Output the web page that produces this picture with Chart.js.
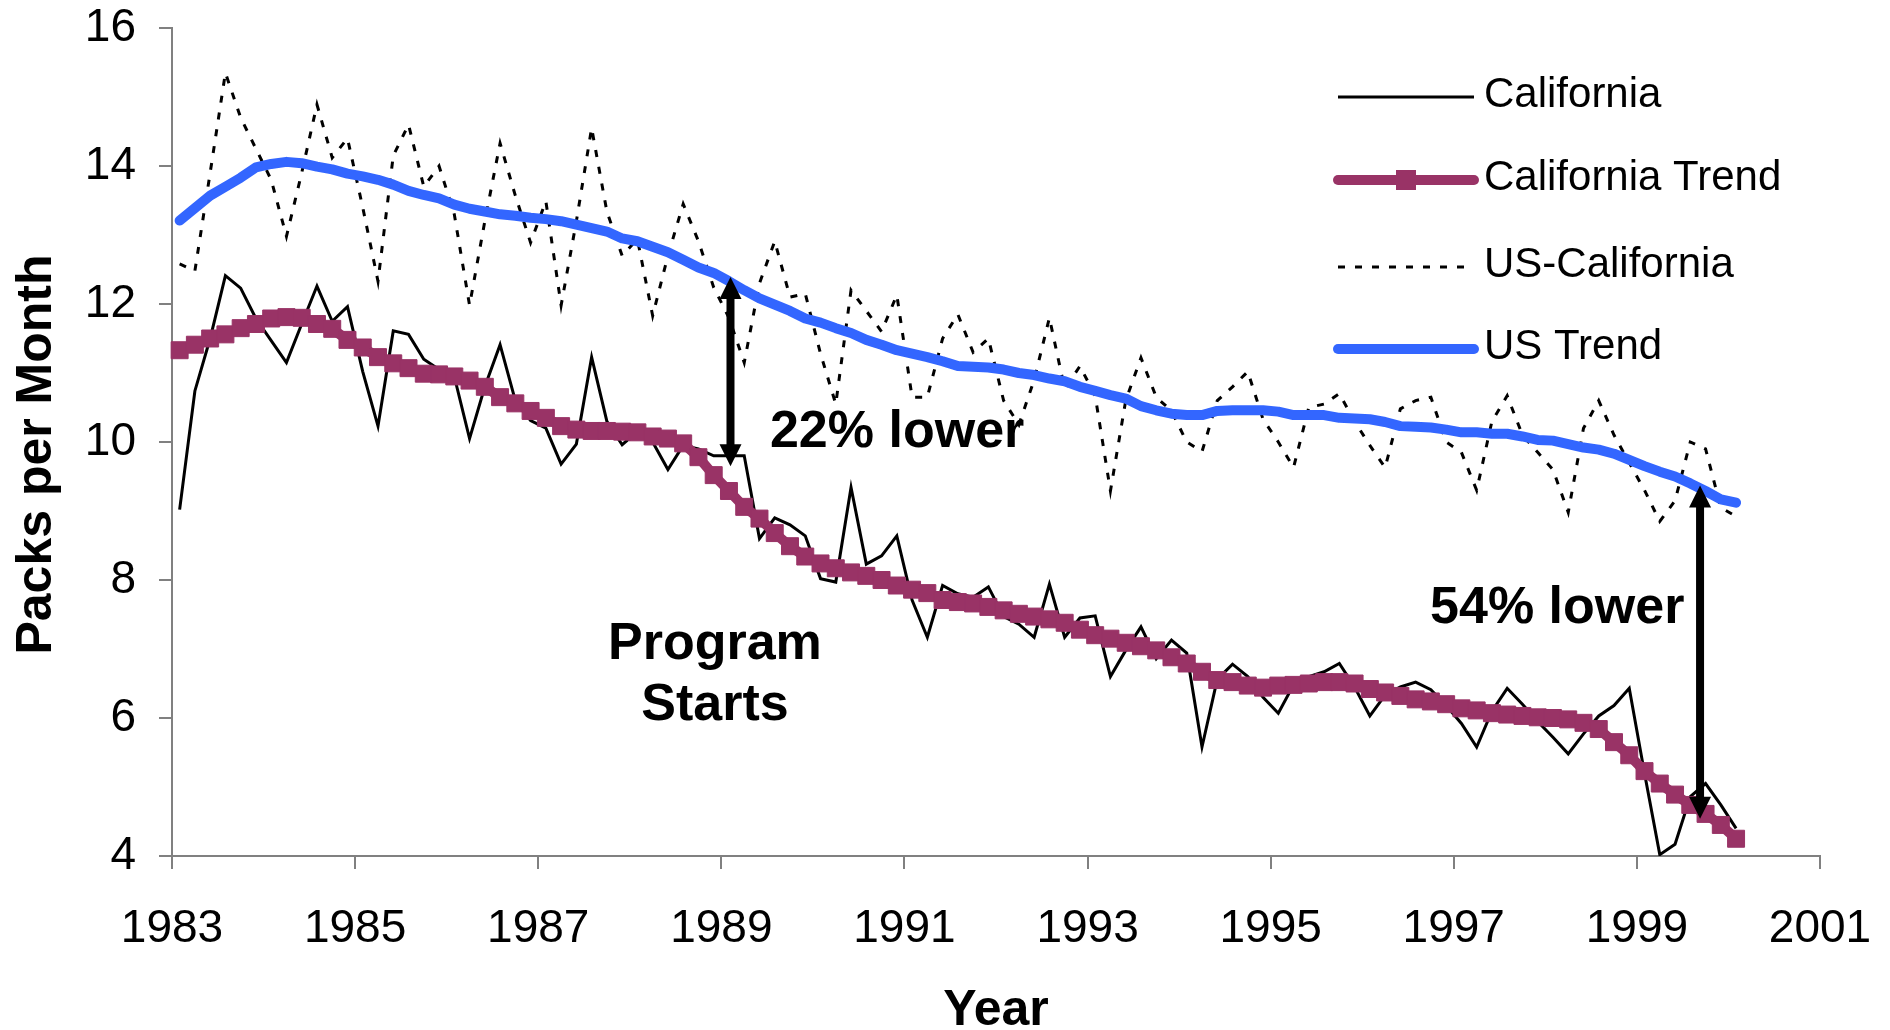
<!DOCTYPE html>
<html>
<head>
<meta charset="utf-8">
<title>Packs per Month</title>
<script src="https://cdn.jsdelivr.net/npm/chart.js@4"></script>
<style>
  body { margin: 0; background: #fff; }
  canvas { display: block; }
</style>
</head>
<body>
<canvas id="myChart" width="1890" height="1030"></canvas>
<script>
// data is bimonthly, first period is Jan-Feb 1983
const firstPeriod = 1983 + 1 / 12;
const periodStep = 2 / 12;

const yearTicks = [1983, 1985, 1987, 1989, 1991, 1993, 1995, 1997, 1999, 2001];
const packTicks = [4, 6, 8, 10, 12, 14, 16];

const california = [
  9.02, 10.74, 11.5, 12.41, 12.23, 11.79, 11.47, 11.15, 11.71, 12.26, 11.75, 11.96, 11.02, 10.23, 11.61, 11.56, 11.2,
  11.05, 10.95, 10.05, 10.8, 11.41, 10.6, 10.31, 10.2, 9.68, 9.97, 11.23, 10.3, 9.96, 10.15, 10.0, 9.6, 9.95,
  9.9, 9.8, 9.8, 9.8, 8.6, 8.9, 8.8, 8.64, 8.02, 7.97, 9.34, 8.23, 8.35, 8.64, 7.71, 7.17, 7.92, 7.8,
  7.75, 7.9, 7.47, 7.36, 7.17, 7.94, 7.17, 7.45, 7.48, 6.6, 6.98, 7.32, 6.86, 7.13, 6.94, 5.58, 6.56,
  6.78, 6.6, 6.3, 6.07, 6.48, 6.6, 6.67, 6.79, 6.45, 6.03, 6.33, 6.45, 6.52, 6.41, 6.18, 5.92, 5.58, 6.1,
  6.43, 6.2, 5.95, 5.72, 5.48, 5.77, 6.03, 6.18, 6.43, 5.2, 4.02, 4.17, 4.86, 5.05, 4.74, 4.4
];

const californiaTrend = [
  11.33, 11.41, 11.5, 11.56, 11.65, 11.71, 11.79, 11.81, 11.8, 11.71, 11.64, 11.48, 11.37, 11.23, 11.14, 11.07, 10.99,
  10.98, 10.95, 10.89, 10.8, 10.65, 10.56, 10.45, 10.35, 10.23, 10.18, 10.16, 10.16, 10.15, 10.14, 10.08, 10.05, 9.98,
  9.78, 9.52, 9.29, 9.06, 8.89, 8.68, 8.49, 8.34, 8.24, 8.17, 8.11, 8.06, 8.0, 7.92, 7.86, 7.81, 7.71, 7.68,
  7.66, 7.61, 7.56, 7.51, 7.47, 7.43, 7.38, 7.28, 7.2, 7.15, 7.09, 7.04, 6.98, 6.88, 6.79, 6.67, 6.55,
  6.52, 6.47, 6.44, 6.47, 6.48, 6.5, 6.52, 6.52, 6.5, 6.42, 6.37, 6.32, 6.27, 6.24, 6.2, 6.14, 6.11, 6.07,
  6.05, 6.03, 6.01, 6.0, 5.98, 5.93, 5.84, 5.65, 5.46, 5.23, 5.05, 4.89, 4.74, 4.61, 4.45, 4.25
];

const usCalifornia = [
  12.58, 12.48, 13.9, 15.35, 14.7, 14.25, 13.8, 12.98, 13.9, 14.89, 14.12, 14.4, 13.4, 12.33, 14.15, 14.6, 13.7,
  14.0, 13.3, 11.98, 13.2, 14.33, 13.57, 12.89, 13.49, 11.98, 13.2, 14.55, 13.34, 12.7, 12.94, 11.83, 12.7, 13.45,
  12.91, 12.24, 11.8, 11.15, 12.3, 12.91, 12.1, 12.15, 11.28, 10.55, 12.2, 11.9, 11.6, 12.13, 10.65, 10.65, 11.5, 11.85,
  11.3, 11.5, 10.6, 10.25, 10.9, 11.8, 10.77, 11.1, 10.67, 9.29, 10.6, 11.22, 10.65, 10.45, 10.0, 9.86, 10.6,
  10.8, 11.02, 10.33, 10.0, 9.63, 10.5, 10.55, 10.7, 10.3, 9.95, 9.63, 10.48, 10.6, 10.65, 10.0, 9.85, 9.3, 10.3,
  10.67, 10.1, 9.85, 9.6, 8.98, 10.2, 10.6, 10.1, 9.7, 9.3, 8.85, 9.15, 10.0, 9.9, 9.05, 8.92
];

const usTrend = [
  13.21, 13.39, 13.57, 13.7, 13.83, 13.98, 14.03, 14.06, 14.04, 13.99, 13.95, 13.89, 13.85, 13.8, 13.73, 13.64, 13.58,
  13.53, 13.44, 13.38, 13.34, 13.3, 13.28, 13.25, 13.23, 13.2, 13.15, 13.1, 13.05, 12.95, 12.91, 12.83, 12.75, 12.64,
  12.53, 12.45, 12.33, 12.2, 12.08, 11.99, 11.9, 11.79, 11.73, 11.65, 11.58, 11.48, 11.41, 11.33, 11.28, 11.23, 11.17, 11.1,
  11.09, 11.08, 11.05, 11.0, 10.97, 10.92, 10.88, 10.8, 10.74, 10.68, 10.63, 10.52, 10.46, 10.41, 10.39, 10.39, 10.45,
  10.46, 10.46, 10.46, 10.44, 10.39, 10.39, 10.39, 10.35, 10.34, 10.33, 10.29, 10.23, 10.22, 10.21, 10.18, 10.14, 10.14, 10.12,
  10.12, 10.08, 10.03, 10.02, 9.97, 9.92, 9.89, 9.83, 9.74, 9.65, 9.57, 9.5, 9.4, 9.29, 9.17, 9.12
];

// annotations, in data units (year, packs)
const arrows = [
  { x: 1989.1, from: 12.39, to: 9.65 },
  { x: 1999.69, from: 9.37, to: 4.54 }
];
const notes = [
  { text: "22% lower", x: 1990.92, y: 10.13 },
  { text: "54% lower", x: 1998.13, y: 7.58 },
  { text: "Program", x: 1988.93, y: 7.07 },
  { text: "Starts", x: 1988.93, y: 6.18 }
];

const FONT = '"Liberation Sans", Arial, sans-serif';
const AXIS_GREY = "#808080";

function toPoints(values) {
  return values.map((v, i) => ({ x: firstPeriod + i * periodStep, y: v }));
}

// arrows and bold labels drawn over the lines
const annotationPlugin = {
  id: "annotations",
  afterDatasetsDraw(chart) {
    const { ctx, scales: { x, y } } = chart;
    ctx.save();
    ctx.fillStyle = "#000";
    ctx.strokeStyle = "#000";
    arrows.forEach(a => {
      const px = x.getPixelForValue(a.x);
      const top = y.getPixelForValue(a.from);
      const bottom = y.getPixelForValue(a.to);
      const head = 22, half = 11;
      ctx.lineWidth = 8;
      ctx.beginPath();
      ctx.moveTo(px, top + head - 2);
      ctx.lineTo(px, bottom - head + 2);
      ctx.stroke();
      ctx.beginPath();
      ctx.moveTo(px, top);
      ctx.lineTo(px - half, top + head);
      ctx.lineTo(px + half, top + head);
      ctx.closePath();
      ctx.fill();
      ctx.beginPath();
      ctx.moveTo(px, bottom);
      ctx.lineTo(px - half, bottom - head);
      ctx.lineTo(px + half, bottom - head);
      ctx.closePath();
      ctx.fill();
    });
    ctx.font = "bold 52px " + FONT;
    ctx.textAlign = "center";
    ctx.textBaseline = "middle";
    notes.forEach(n => {
      ctx.fillText(n.text, x.getPixelForValue(n.x), y.getPixelForValue(n.y));
    });
    ctx.restore();
  }
};

// legend box at the top right, inside the plot
const legendPlugin = {
  id: "insideLegend",
  afterDraw(chart) {
    const { ctx } = chart;
    const rows = [97, 180, 267, 349];
    const x1 = 1338, x2 = 1474;
    ctx.save();
    chart.data.datasets.forEach((ds, i) => {
      const yy = rows[i];
      ctx.strokeStyle = ds.borderColor;
      ctx.lineWidth = ds.borderWidth;
      ctx.lineCap = ds.borderCapStyle || "butt";
      ctx.setLineDash(ds.borderDash || []);
      ctx.beginPath();
      ctx.moveTo(x1, yy);
      ctx.lineTo(x2, yy);
      ctx.stroke();
      ctx.setLineDash([]);
      if (ds.pointRadius > 0) {
        ctx.fillStyle = ds.pointBackgroundColor;
        ctx.fillRect((x1 + x2) / 2 - 10, yy - 10, 20, 20);
      }
      ctx.fillStyle = "#000";
      ctx.font = "42px " + FONT;
      ctx.textAlign = "left";
      ctx.textBaseline = "middle";
      ctx.fillText(ds.label, 1484, yy - 2);
    });
    ctx.restore();
  }
};

const ctx = document.getElementById("myChart").getContext("2d");
new Chart(ctx, {
  type: "line",
  data: {
    datasets: [
      {
        label: "California",
        data: toPoints(california),
        borderColor: "#000000",
        borderWidth: 3,
        pointRadius: 0,
        order: 4
      },
      {
        label: "California Trend",
        data: toPoints(californiaTrend),
        borderColor: "#993366",
        borderWidth: 10,
        borderCapStyle: "round",
        pointStyle: "rect",
        pointRadius: 12,
        pointBackgroundColor: "#993366",
        pointBorderColor: "#993366",
        pointBorderWidth: 1,
        clip: false,
        order: 3
      },
      {
        label: "US-California",
        data: toPoints(usCalifornia),
        borderColor: "#000000",
        borderWidth: 3,
        borderDash: [7, 10],
        pointRadius: 0,
        order: 2
      },
      {
        label: "US Trend",
        data: toPoints(usTrend),
        borderColor: "#3366ff",
        borderWidth: 10,
        borderCapStyle: "round",
        borderJoinStyle: "round",
        pointRadius: 0,
        clip: false,
        order: 1
      }
    ]
  },
  options: {
    responsive: false,
    animation: false,
    events: [],
    layout: { padding: { top: 28, right: 70, left: 0, bottom: 0 } },
    elements: { line: { tension: 0 } },
    plugins: {
      legend: { display: false },
      tooltip: { enabled: false }
    },
    scales: {
      x: {
        type: "linear",
        min: 1983,
        max: 2001,
        afterFit: s => {
          s.height = 174;
          s.paddingLeft = 0;
          s.paddingRight = 0;
        },
        afterBuildTicks: s => { s.ticks = yearTicks.map(v => ({ value: v })); },
        ticks: {
          callback: v => String(v),
          font: { family: FONT, size: 46 },
          color: "#000",
          padding: 33,
          maxRotation: 0,
          autoSkip: false
        },
        grid: { drawOnChartArea: false, tickLength: 13, color: AXIS_GREY, lineWidth: 2 },
        border: { color: AXIS_GREY, width: 2 },
        title: {
          display: true,
          text: "Year",
          color: "#000",
          font: { family: FONT, size: 50, weight: "bold", lineHeight: 0.76 },
          padding: { top: 0, bottom: 0 }
        }
      },
      y: {
        min: 4,
        max: 16,
        afterFit: s => {
          s.width = 172;
          s.paddingTop = 0;
          s.paddingBottom = 0;
        },
        afterBuildTicks: s => { s.ticks = packTicks.map(v => ({ value: v })); },
        ticks: {
          font: { family: FONT, size: 46 },
          color: "#000",
          padding: 23
        },
        grid: { drawOnChartArea: false, tickLength: 13, color: AXIS_GREY, lineWidth: 2 },
        border: { color: AXIS_GREY, width: 2 },
        title: {
          display: true,
          // trailing en space nudges the rotated title down a little, as in the original
          text: "Packs per Month\u2002",
          color: "#000",
          font: { family: FONT, size: 50, weight: "bold", lineHeight: 1.2 },
          padding: { top: 7, bottom: 0 }
        }
      }
    }
  },
  plugins: [annotationPlugin, legendPlugin]
});
</script>
</body>
</html>
